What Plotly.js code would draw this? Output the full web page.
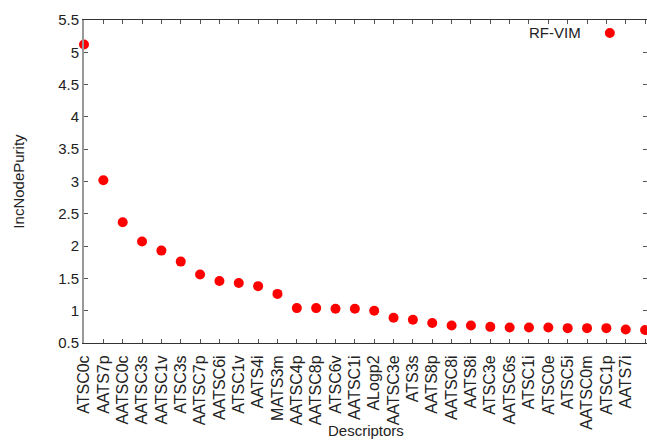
<!DOCTYPE html>
<html><head><meta charset="utf-8">
<script src="https://cdn.plot.ly/plotly-3.0.1.min.js"></script>
<style>html,body{margin:0;padding:0;background:#fff;overflow:hidden}#c{width:647px;height:441px}</style>
</head><body><div id="c"></div>
<script>
const descriptors = ["ATSC0c","AATS7p","AATSC0c","AATSC3s","AATSC1v","ATSC3s","AATSC7p","AATSC6i","ATSC1v","AATS4i","MATS3m","AATSC4p","AATSC8p","ATSC6v","AATSC1i","ALogp2","AATSC3e","ATS3s","AATS8p","AATSC8i","AATS8i","ATSC3e","AATSC6s","ATSC1i","ATSC0e","ATSC5i","AATSC0m","ATSC1p","AATS7i","AATSC5i"];
const incNodePurity = [5.12,3.02,2.37,2.07,1.93,1.76,1.56,1.46,1.43,1.38,1.26,1.04,1.04,1.03,1.03,1.00,0.89,0.86,0.81,0.77,0.77,0.75,0.74,0.74,0.74,0.73,0.73,0.73,0.71,0.70];
const yTicks = [0.5,1,1.5,2,2.5,3,3.5,4,4.5,5,5.5];
const seriesName = "RF-VIM";
const xTitle = "Descriptors";
const yTitle = "IncNodePurity";

const idx = descriptors.map((d,i)=>i);
const trace = {
  x: idx, y: incNodePurity, type: "scatter", mode: "markers", name: seriesName,
  marker: {color: "#ff0000", size: 10, symbol: "circle"}, cliponaxis: false, showlegend: false
};
const layout = {
  width: 647, height: 441,
  margin: {l: 84, r: 0, t: 20, b: 98},
  paper_bgcolor: "#fff", plot_bgcolor: "#fff",
  font: {family: "Liberation Sans, Arial, sans-serif", color: "#222", size: 15},
  xaxis: {
    range: [0, 29.1], tickvals: idx, ticktext: descriptors, tickangle: -90,
    ticks: "inside", ticklen: 4, tickcolor: "#555", showgrid: false, zeroline: false,
    showline: true, linecolor: "#333", linewidth: 1, mirror: "ticks",
    tickfont: {size: 16, color: "#222"}, automargin: false, ticklabelstandoff: 5
  },
  yaxis: {
    range: [0.5, 5.5], tickvals: yTicks, ticktext: yTicks.map(String),
    ticks: "inside", ticklen: 4, tickcolor: "#555", showgrid: false, zeroline: false,
    showline: true, linecolor: "#999", linewidth: 2, mirror: "ticks",
    tickfont: {size: 15, color: "#222"}, automargin: false
  },
  annotations: [
    {xref: "paper", yref: "paper", x: 0.886, y: 0.96, xanchor: "right", yanchor: "middle",
     text: seriesName, showarrow: false, font: {size: 15, color: "#222"}},
    {xref: "paper", yref: "paper", x: 0.5, y: -0.271, xanchor: "center", yanchor: "middle",
     text: xTitle, showarrow: false, font: {size: 15, color: "#222"}},
    {xref: "paper", yref: "paper", x: -0.117, y: 0.5, xanchor: "center", yanchor: "middle",
     text: yTitle, showarrow: false, textangle: -90, font: {size: 15, color: "#222"}}
  ],
  shapes: [{type: "circle", xref: "paper", yref: "paper", xsizemode: "pixel", ysizemode: "pixel",
    xanchor: 0.934, yanchor: 0.96, x0: -5, x1: 5, y0: -5, y1: 5,
    fillcolor: "#ff0000", line: {width: 0}}]
};
Plotly.newPlot("c", [trace], layout, {displayModeBar: false, staticPlot: true});
</script></body></html>
